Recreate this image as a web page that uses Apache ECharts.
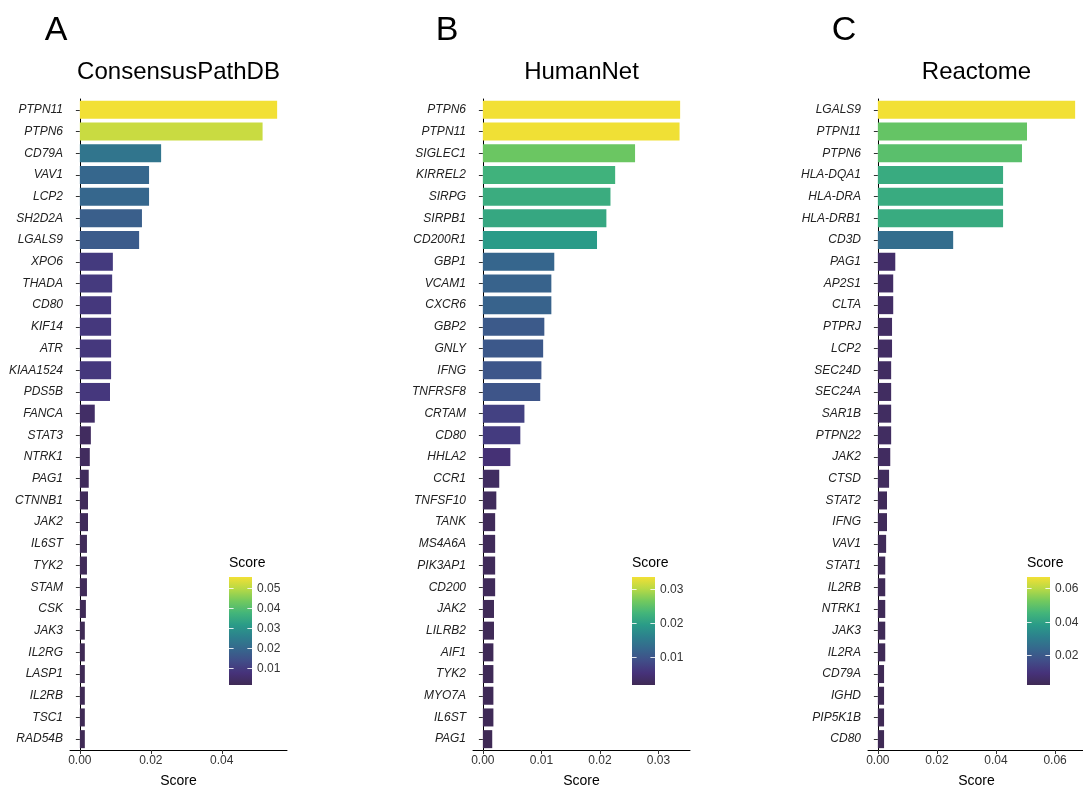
<!DOCTYPE html>
<html>
<head>
<meta charset="utf-8">
<script src="https://cdn.jsdelivr.net/npm/echarts@6/dist/echarts.min.js"></script>
<style>
html,body{margin:0;padding:0;background:#fff;}
#chart{width:1083px;height:789px;}
</style>
</head>
<body>
<div id="chart"></div>
<script>
// ---------- data ----------
const genesA = ["PTPN11","PTPN6","CD79A","VAV1","LCP2","SH2D2A","LGALS9","XPO6","THADA","CD80","KIF14","ATR","KIAA1524","PDS5B","FANCA","STAT3","NTRK1","PAG1","CTNNB1","JAK2","IL6ST","TYK2","STAM","CSK","JAK3","IL2RG","LASP1","IL2RB","TSC1","RAD54B"];
const valuesA = [0.0556,0.0515,0.0229,0.0195,0.0195,0.0175,0.0167,0.0093,0.0091,0.0088,0.0088,0.0088,0.0088,0.0085,0.0042,0.0031,0.0028,0.0025,0.0023,0.0023,0.0020,0.0020,0.0020,0.0017,0.0014,0.0014,0.0014,0.0014,0.0014,0.0014];

const genesB = ["PTPN6","PTPN11","SIGLEC1","KIRREL2","SIRPG","SIRPB1","CD200R1","GBP1","VCAM1","CXCR6","GBP2","GNLY","IFNG","TNFRSF8","CRTAM","CD80","HHLA2","CCR1","TNFSF10","TANK","MS4A6A","PIK3AP1","CD200","JAK2","LILRB2","AIF1","TYK2","MYO7A","IL6ST","PAG1"];
const valuesB = [0.0337,0.0336,0.0260,0.0226,0.0218,0.0211,0.0195,0.0122,0.0117,0.0117,0.0105,0.0103,0.0100,0.0098,0.0071,0.0064,0.0047,0.0028,0.0023,0.0021,0.0021,0.0021,0.0021,0.0019,0.0019,0.0018,0.0018,0.0018,0.0018,0.0016];

const genesC = ["LGALS9","PTPN11","PTPN6","HLA-DQA1","HLA-DRA","HLA-DRB1","CD3D","PAG1","AP2S1","CLTA","PTPRJ","LCP2","SEC24D","SEC24A","SAR1B","PTPN22","JAK2","CTSD","STAT2","IFNG","VAV1","STAT1","IL2RB","NTRK1","JAK3","IL2RA","CD79A","IGHD","PIP5K1B","CD80"];
const valuesC = [0.0668,0.0505,0.0488,0.0424,0.0424,0.0424,0.0255,0.0059,0.0052,0.0052,0.0048,0.0048,0.0045,0.0045,0.0045,0.0045,0.0042,0.0038,0.0031,0.0031,0.0028,0.0025,0.0025,0.0025,0.0025,0.0025,0.0021,0.0021,0.0021,0.0021];

const ticksA = [0, 0.02, 0.04];
const ticksB = [0, 0.01, 0.02, 0.03];
const ticksC = [0, 0.02, 0.04, 0.06];

const legendTicksA = [0.01, 0.02, 0.03, 0.04, 0.05];
const legendTicksB = [0.01, 0.02, 0.03];
const legendTicksC = [0.02, 0.04, 0.06];

const titles = ["ConsensusPathDB", "HumanNet", "Reactome"];
const tags = ["A", "B", "C"];

// viridis (as rendered in the reference)
const viridis = ["#3F2A55","#46327A","#414D88","#36678D","#2D808D","#2A9B88","#43B57A","#72C95E","#B6D946","#F2E035"];

// ---------- helpers ----------
function hexToRgb(h){return [parseInt(h.slice(1,3),16),parseInt(h.slice(3,5),16),parseInt(h.slice(5,7),16)];}
function colorAt(t){
  t = Math.max(0, Math.min(1, t));
  const n = viridis.length - 1;
  const p = t * n;
  const i = Math.min(Math.floor(p), n - 1);
  const f = p - i;
  const a = hexToRgb(viridis[i]), b = hexToRgb(viridis[i+1]);
  const c = a.map((v,k)=>Math.round(v + (b[k]-v)*f));
  return 'rgb(' + c.join(',') + ')';
}

const panels = [
  {genes: genesA, values: valuesA, ticks: ticksA, legendTicks: legendTicksA},
  {genes: genesB, values: valuesB, ticks: ticksB, legendTicks: legendTicksB},
  {genes: genesC, values: valuesC, ticks: ticksC, legendTicks: legendTicksC}
];

// layout
const gridLefts = [70, 473, 868];
const gridWidth = 217;
const gridTop = 99;
const gridHeight = 651;
const legendOffset = 159;
const legendBarTop = 577;
const legendBarH = 108;
const legendBarW = 23;

const FONT = "'Liberation Sans', Arial, Helvetica, sans-serif";

const grids = [], xAxes = [], yAxes = [], series = [], graphics = [];

panels.forEach((p, i) => {
  const vmax = Math.max(...p.values);
  const vmin = Math.min(...p.values);
  grids.push({left: gridLefts[i], top: gridTop, width: gridWidth, height: gridHeight, containLabel: false, outerBoundsMode: 'none'});
  xAxes.push({
    gridIndex: i, type: 'value',
    min: -0.05 * vmax, max: 1.05 * vmax,
    splitLine: {show: false},
    axisLine: {show: true, lineStyle: {color: '#000', width: 1}},
    axisTick: {show: true, length: 4, customValues: p.ticks, lineStyle: {color: '#333'}},
    axisLabel: {customValues: p.ticks, formatter: v => Number(v).toFixed(2), fontSize: 12, color: '#333', margin: 5, fontFamily: FONT},
    name: 'Score', nameLocation: 'middle', nameGap: 24,
    nameTextStyle: {fontSize: 14, color: '#000', fontFamily: FONT}
  });
  yAxes.push({
    gridIndex: i, type: 'category', data: p.genes, inverse: true,
    axisLine: {show: true, lineStyle: {color: '#000', width: 1}},
    axisTick: {show: true, alignWithLabel: true, length: 4, lineStyle: {color: '#333'}},
    axisLabel: {interval: 0, fontStyle: 'italic', fontSize: 12, color: '#222', margin: 7, fontFamily: FONT},
    splitLine: {show: false}
  });
  series.push({
    type: 'bar', xAxisIndex: i, yAxisIndex: i,
    barCategoryGap: '17%',
    data: p.values.map(v => ({value: v, itemStyle: {color: colorAt((v - vmin) / (vmax - vmin))}}))
  });

  // titles and tags
  graphics.push({type: 'text', x: gridLefts[i] + gridWidth / 2, y: 72,
    style: {text: titles[i], font: '24px ' + FONT, fill: '#000', textAlign: 'center', textVerticalAlign: 'middle'}});
  const tagX = [56, 447, 844][i];
  graphics.push({type: 'text', x: tagX, y: 31,
    style: {text: tags[i], font: '34px ' + FONT, fill: '#000', textAlign: 'center', textVerticalAlign: 'middle'}});

  // colorbar legend
  const lx = gridLefts[i] + legendOffset;
  graphics.push({type: 'text', x: lx, y: 563,
    style: {text: 'Score', font: '14px ' + FONT, fill: '#000', textAlign: 'left', textVerticalAlign: 'middle'}});
  graphics.push({type: 'rect', shape: {x: lx, y: legendBarTop, width: legendBarW, height: legendBarH},
    style: {fill: {type: 'linear', x: 0, y: 1, x2: 0, y2: 0,
      colorStops: viridis.map((c, k) => ({offset: k / (viridis.length - 1), color: c}))}}});
  p.legendTicks.forEach(v => {
    const y = Math.round(legendBarTop + legendBarH * (1 - (v - vmin) / (vmax - vmin))) + 0.5;
    const tl = legendBarW / 5;
    graphics.push({type: 'line', shape: {x1: lx, y1: y, x2: lx + tl, y2: y}, style: {stroke: 'rgba(255,255,255,0.85)', lineWidth: 1}});
    graphics.push({type: 'line', shape: {x1: lx + legendBarW - tl, y1: y, x2: lx + legendBarW, y2: y}, style: {stroke: 'rgba(255,255,255,0.85)', lineWidth: 1}});
    graphics.push({type: 'text', x: lx + legendBarW + 5, y: y,
      style: {text: v.toFixed(2), font: '12px ' + FONT, fill: '#333', textAlign: 'left', textVerticalAlign: 'middle'}});
  });
});

const chart = echarts.init(document.getElementById('chart'), null, {renderer: 'canvas'});
chart.setOption({
  animation: false,
  backgroundColor: '#fff',
  textStyle: {fontFamily: FONT},
  grid: grids,
  xAxis: xAxes,
  yAxis: yAxes,
  series: series,
  graphic: graphics
});
</script>
</body>
</html>
